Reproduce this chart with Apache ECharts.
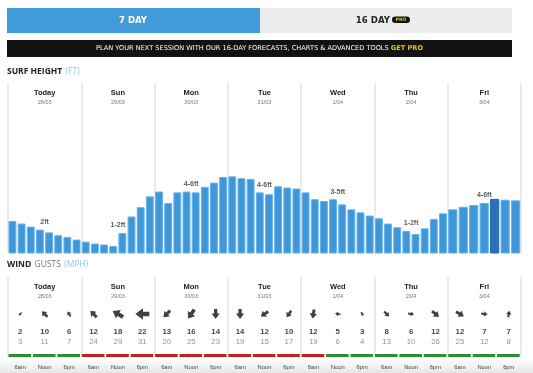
<!DOCTYPE html>
<html><head><meta charset="utf-8">
<script src="https://cdn.jsdelivr.net/npm/echarts@6/dist/echarts.min.js"></script>
<style>html,body{margin:0;padding:0;background:#fff}#c{width:533px;height:373px}</style>
</head><body><div id="c"></div>
<script>
// ---- data ----
const days = ['Today', 'Sun', 'Mon', 'Tue', 'Wed', 'Thu', 'Fri'];
const dates = ['28/03', '29/03', '30/03', '31/03', '1/04', '2/04', '3/04'];
const surfToday = [2.0, 1.84, 1.65, 1.46, 1.29, 1.11, 1.0, 0.84];
const surfSun = [0.71, 0.59, 0.53, 0.44, 1.25, 2.28, 2.86, 3.54];
const surfMon = [3.84, 3.13, 3.79, 3.84, 3.79, 4.13, 4.4, 4.75];
const surfTue = [4.79, 4.67, 4.63, 3.79, 3.67, 4.17, 4.09, 4.03];
const surfWed = [3.79, 3.36, 3.25, 3.36, 3.04, 2.73, 2.54, 2.34];
const surfThu = [2.17, 1.84, 1.61, 1.38, 1.19, 1.54, 2.13, 2.48];
const surfFri = [2.73, 2.89, 3.0, 3.13, 3.38, 3.33, 3.29];
const surfByDay = [surfToday, surfSun, surfMon, surfTue, surfWed, surfThu, surfFri];
const rangeLabels = ['2ft', '1-2ft', '4-6ft', '4-6ft', '3-5ft', '1-2ft', '4-6ft'];
const selectedDay = 6, selectedBar = 4;

const times = ['6am', 'Noon', '6pm'];
const windSpeed = [2, 10, 6, 12, 18, 22, 13, 16, 14, 14, 12, 10, 12, 5, 3, 8, 6, 12, 12, 7, 7];
const windGust = [3, 11, 7, 24, 29, 31, 20, 25, 23, 19, 15, 17, 19, 6, 4, 13, 10, 26, 25, 12, 8];
const windDir = [225, 315, 330, 315, 300, 270, 225, 215, 180, 180, 235, 215, 190, 280, 150, 135, 100, 130, 120, 100, 10];
const windRating = ['good','good','good','poor','poor','poor','poor','poor','poor','poor','poor','poor','poor','good','good','good','good','good','good','good','good'];

// ---- build ----
const surfBars = [];
surfByDay.forEach((arr, d) => {
  const n = arr.length;
  arr.forEach((v, i) => surfBars.push([d + i / n, d + (i + 1) / n, v, (d === selectedDay && i === selectedBar) ? 1 : 0]));
});
const rangePts = surfByDay.map((arr, d) => {
  const n = arr.length;
  const v = n % 2 === 0 ? Math.max(arr[n / 2 - 1], arr[n / 2]) : arr[(n - 1) / 2];
  return [d + 0.5, v];
});
const timeCats = [];
days.forEach(() => times.forEach(t => timeCats.push(t)));
const windIdx = windSpeed.map((s, i) => i);

const SMALL = 'Liberation Sans, Arial, sans-serif';
const HEAD = 'DejaVu Sans, sans-serif';
const dayLabel = {
  show: true, inside: true, margin: 5,
  formatter: (v, i) => '{n|' + v + '}\n{d|' + dates[i] + '}',
  rich: {
    n: { fontSize: 7.5, fontWeight: 'bold', color: '#222', fontFamily: SMALL, lineHeight: 10 },
    d: { fontSize: 5.5, color: '#777', fontFamily: SMALL, lineHeight: 9 }
  }
};
const sepLine = { show: true, lineStyle: { color: '#e4e4e4', width: 1.5 } };

const chart = echarts.init(document.getElementById('c'), null, { renderer: 'canvas' });
chart.setOption({
  animation: false,
  backgroundColor: '#fff',
  grid: [
    { left: 8, right: 12, top: 83, height: 170 },
    { left: 8, right: 12, top: 277, height: 80 }
  ],
  xAxis: [
    { type: 'value', gridIndex: 0, min: 0, max: 7, interval: 1, splitLine: sepLine,
      axisLine: { show: false }, axisTick: { show: false }, axisLabel: { show: false } },
    { type: 'category', gridIndex: 0, position: 'top', data: days,
      axisLine: { show: false }, axisTick: { show: false }, axisLabel: dayLabel },
    { type: 'value', gridIndex: 1, min: 0, max: 21, interval: 3, splitLine: sepLine,
      axisLine: { show: false }, axisTick: { show: false }, axisLabel: { show: false } },
    { type: 'category', gridIndex: 1, position: 'top', data: days,
      axisLine: { show: false }, axisTick: { show: false }, axisLabel: dayLabel },
    { type: 'category', gridIndex: 1, position: 'bottom', data: timeCats,
      axisLine: { show: false }, axisTick: { show: false },
      axisLabel: { fontSize: 5.8, color: '#444', fontFamily: SMALL, margin: 7, interval: 0 } }
  ],
  yAxis: [
    { type: 'value', gridIndex: 0, min: 0, max: 10.625, show: false },
    { type: 'value', gridIndex: 1, min: 0, max: 80, show: false }
  ],
  series: [
    { type: 'custom', xAxisIndex: 0, yAxisIndex: 0, data: surfBars,
      renderItem: (params, api) => {
        const p0 = api.coord([api.value(0), api.value(2)]);
        const p1 = api.coord([api.value(1), 0]);
        const sel = api.value(3) === 1;
        return { type: 'rect',
          shape: { x: p0[0] + 1, y: p0[1] + 0.5, width: p1[0] - p0[0] - 2.3, height: p1[1] - p0[1] - 0.5 },
          style: { fill: sel ? '#2a73b6' : '#3d97d8', stroke: sel ? '#2468a8' : '#66b1e8', lineWidth: 1 } };
      } },
    { type: 'scatter', xAxisIndex: 0, yAxisIndex: 0, data: rangePts, symbolSize: 0,
      label: { show: true, position: 'top', distance: 4, formatter: p => rangeLabels[p.dataIndex],
        fontSize: 7, fontWeight: 'bold', color: '#333', fontFamily: SMALL } },
    { type: 'custom', xAxisIndex: 2, yAxisIndex: 1, data: windIdx.map(i => [i, i + 1, windRating[i] === 'good' ? 1 : 0]),
      renderItem: (params, api) => {
        const p0 = api.coord([api.value(0), 3]);
        const p1 = api.coord([api.value(1), 0]);
        return { type: 'rect',
          shape: { x: p0[0] + 0.5, y: p0[1], width: p1[0] - p0[0] - 1.8, height: p1[1] - p0[1] },
          style: { fill: api.value(2) === 1 ? '#2b912d' : '#c4201f' } };
      } },
    { type: 'scatter', xAxisIndex: 2, yAxisIndex: 1,
      data: windIdx.map(i => ({ value: [i + 0.5, 43], symbolRotate: -windDir[i],
        symbolSize: [(3 + windSpeed[i] * 0.5) * 0.9, 3 + windSpeed[i] * 0.5] })),
      symbol: 'path://M5,0 L10,6 L7,6 L7,11 L3,11 L3,6 L0,6 Z', symbolKeepAspect: true,
      itemStyle: { color: '#111' } },
    { type: 'scatter', xAxisIndex: 2, yAxisIndex: 1, data: windIdx.map(i => [i + 0.5, 25.3]), symbolSize: 0,
      label: { show: true, position: 'inside', formatter: p => String(windSpeed[p.dataIndex]),
        fontSize: 7.8, fontWeight: 'bold', color: '#111', fontFamily: SMALL } },
    { type: 'scatter', xAxisIndex: 2, yAxisIndex: 1, data: windIdx.map(i => [i + 0.5, 14.7]), symbolSize: 0,
      label: { show: true, position: 'inside', formatter: p => String(windGust[p.dataIndex]),
        fontSize: 7.8, color: '#777', fontFamily: SMALL } }
  ],
  graphic: [
    { type: 'rect', z: -1, shape: { x: 0, y: 359, width: 533, height: 14 },
      style: { fill: new echarts.graphic.LinearGradient(0, 0, 0, 1, [{ offset: 0, color: '#ffffff' }, { offset: 1, color: '#e6e6e6' }]) } },
    { type: 'rect', shape: { x: 7, y: 8, width: 253, height: 25 }, style: { fill: '#429bd9' } },
    { type: 'rect', shape: { x: 260, y: 8, width: 252, height: 25 }, style: { fill: '#ececec' } },
    { type: 'text', x: 133, y: 21, style: { text: '7 DAY', fill: '#fff', font: 'bold 8.6px ' + HEAD, align: 'center', verticalAlign: 'middle' } },
    { type: 'text', x: 390, y: 21, style: { text: '16 DAY', fill: '#222', font: 'bold 8.6px ' + HEAD, align: 'right', verticalAlign: 'middle' } },
    { type: 'rect', shape: { x: 392, y: 16.5, width: 18, height: 6.5, r: 3.2 }, style: { fill: '#111' } },
    { type: 'text', x: 401, y: 19.9, style: { text: 'PRO', fill: '#f2c200', font: 'bold 4.6px ' + HEAD, align: 'center', verticalAlign: 'middle' } },
    { type: 'rect', shape: { x: 7, y: 40, width: 505, height: 17 }, style: { fill: '#121212' } },
    { type: 'text', x: 259.5, y: 48.7, style: { text: '{w|PLAN YOUR NEXT SESSION WITH OUR 16-DAY FORECASTS, CHARTS & ADVANCED TOOLS }{y|GET PRO}',
      align: 'center', verticalAlign: 'middle',
      rich: { w: { fill: '#fff', fontSize: 6.6, fontFamily: HEAD }, y: { fill: '#f2c200', fontSize: 6.6, fontWeight: 'bold', fontFamily: HEAD } } } },
    { type: 'text', x: 7, y: 72, style: { text: '{b|SURF HEIGHT} {l|(FT)}', verticalAlign: 'middle',
      rich: { b: { fill: '#222', fontSize: 8.5, fontWeight: 'bold', fontFamily: 'Open Sans, sans-serif' }, l: { fill: '#8ec4ee', fontSize: 8.5, fontFamily: 'Open Sans, sans-serif' } } } },
    { type: 'text', x: 7, y: 265, style: { text: '{b|WIND} {g|GUSTS} {l|(MPH)}', verticalAlign: 'middle',
      rich: { b: { fill: '#222', fontSize: 8.5, fontWeight: 'bold', fontFamily: 'Open Sans, sans-serif' }, g: { fill: '#777', fontSize: 8.5, fontFamily: 'Open Sans, sans-serif' }, l: { fill: '#8ec4ee', fontSize: 8.5, fontFamily: 'Open Sans, sans-serif' } } } }
  ]
});
</script></body></html>
